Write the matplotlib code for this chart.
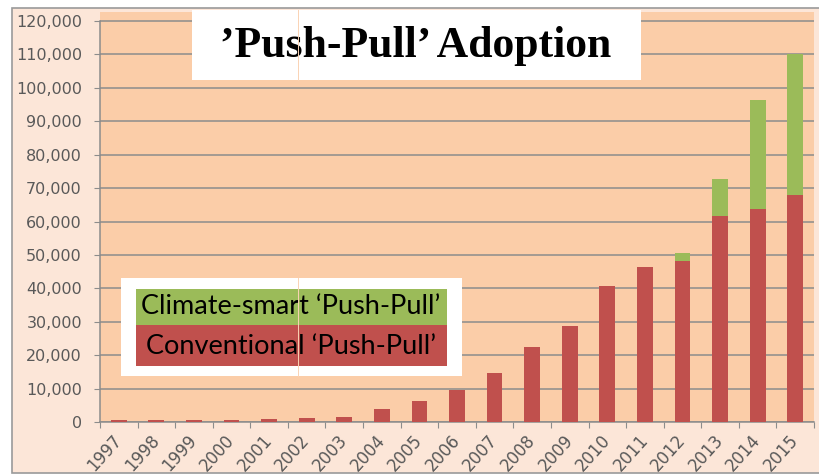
import numpy as np
import matplotlib.pyplot as plt
from matplotlib.patches import Rectangle

# data
years = [str(y) for y in range(1997, 2016)]
conventional = [500, 500, 500, 500, 800, 1200, 1500, 4000, 6400, 9500,
                14600, 22500, 28800, 40800, 46300, 48200, 61500, 63800, 68000]
climate_smart = [0, 0, 0, 0, 0, 0, 0, 0, 0, 0,
                 0, 0, 0, 0, 0, 2300, 11300, 32600, 42200]
yticks = list(range(0, 120001, 10000))

red = '#C0504D'
green = '#9BBB59'
W, H = 819, 475

fig = plt.figure(figsize=(W / 100, H / 100), dpi=100)
fig.patch.set_facecolor('white')

def fbox(x0, y0, x1, y1, **kw):
    # rectangle in pixel coords (top-left origin) of the figure
    r = Rectangle((x0 / W, 1 - y1 / H), (x1 - x0) / W, (y1 - y0) / H,
                  transform=fig.transFigure, **kw)
    fig.add_artist(r)
    return r

# outer chart area
fbox(12, 8, 830, 473, facecolor='#FCE6D8', edgecolor='#9a9a9a', lw=1.2, zorder=0)

ax = fig.add_axes([100 / W, 1 - 422 / H, 714 / W, 410 / H])
ax.set_facecolor('#FBCDA8')
x = np.arange(len(years))
ax.bar(x, conventional, width=0.42, color=red, zorder=3)
ax.bar(x, climate_smart, width=0.42, bottom=conventional, color=green, zorder=3)

ax.set_xlim(-0.5, len(years) - 0.5)
ax.set_ylim(0, 122700)
ax.set_yticks(yticks)
ax.set_yticklabels(['{:,}'.format(v) for v in yticks], fontsize=11.5, color='#595959')
ax.yaxis.grid(True, color='#8c8c8c', lw=1.1, zorder=1)
ax.set_axisbelow(True)

ax.set_xticks(np.arange(-0.5, len(years), 1.0))
ax.set_xticklabels([])
ax.set_xticks(x, minor=True)
ax.set_xticklabels(years, minor=True, rotation=48, ha='right', va='center',
                   rotation_mode='anchor', fontsize=12, color='#595959')
ax.tick_params(axis='x', which='minor', length=0, pad=11)
ax.tick_params(axis='x', which='major', length=4, color='#8c8c8c', direction='out')
ax.tick_params(axis='y', length=4, color='#8c8c8c', pad=9)

for s in ['top', 'right']:
    ax.spines[s].set_visible(False)
ax.spines['left'].set_bounds(0, 120000)
for s in ['left', 'bottom']:
    ax.spines[s].set_color('#8c8c8c')
    ax.spines[s].set_linewidth(1.1)

# title box
fbox(192, 10, 641, 80, facecolor='white', edgecolor='none', zorder=5)
fig.text(416 / W, 1 - 46 / H, '\u2019Push-Pull\u2019 Adoption', ha='center', va='center',
         fontsize=31.5, fontweight='bold', family='Liberation Serif', zorder=6)

# legend box
fbox(121, 278, 462, 376, facecolor='white', edgecolor='none', zorder=5)
fbox(136, 289, 447, 325, facecolor=green, edgecolor='none', zorder=6)
fbox(136, 325, 447, 366, facecolor=red, edgecolor='none', zorder=6)
fig.text(291 / W, 1 - 307 / H, 'Climate-smart \u2018Push-Pull\u2019', ha='center', va='center',
         fontsize=19.5, family='Lato', color='black', zorder=7)
fig.text(291 / W, 1 - 346 / H, 'Conventional \u2018Push-Pull\u2019', ha='center', va='center',
         fontsize=19.5, family='Lato', color='black', zorder=7)

# faint vertical seam that runs through both boxes in the original
for y0, y1 in [(10, 80), (278, 376)]:
    fig.add_artist(plt.Line2D([298 / W, 298 / W], [1 - y0 / H, 1 - y1 / H],
                              transform=fig.transFigure, color='#FAD3B4', lw=0.7, zorder=8))

fig.savefig('out.png', dpi=100, facecolor=fig.get_facecolor())
